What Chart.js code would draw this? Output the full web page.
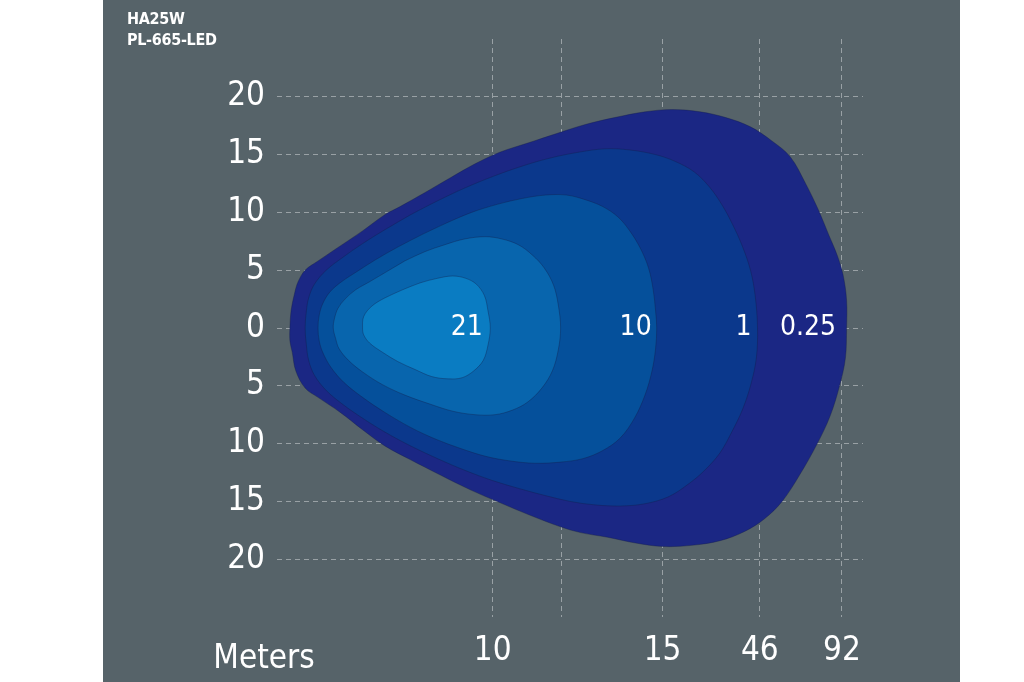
<!DOCTYPE html>
<html>
<head>
<meta charset="utf-8">
<title>HA25W PL-665-LED</title>
<script src="https://cdn.jsdelivr.net/npm/chart.js@4.4.1/dist/chart.umd.min.js"></script>
<style>
  html, body { margin: 0; padding: 0; background: #ffffff; }
  body { width: 1024px; height: 682px; position: relative; overflow: hidden; }
  #panel { position: absolute; left: 103px; top: 0; width: 857px; height: 682px; background: #566369; }
  #panel canvas { position: absolute; left: 0; top: 0; }
  .title {
    position: absolute; left: 24px; top: 8px; color: #ffffff; letter-spacing: -0.3px;
    font: bold 16px/21px 'DejaVu Sans Condensed', 'Liberation Sans Narrow', sans-serif;
  }
  .meters {
    position: absolute; left: 101px; width: 120px; top: 636px; color: #ffffff; text-align: center;
    font: 33px/42px 'DejaVu Sans Condensed', 'Liberation Sans Narrow', sans-serif;
  }
</style>
</head>
<body>
<div id="panel">
  <canvas id="isoChart" width="857" height="682"></canvas>
  <div class="title">HA25W<br>PL-665-LED</div>
  <div class="meters">Meters</div>
</div>
<script>
/* ---------- Data ---------- */
// x ticks: positions along the beam axis and the labels printed under them
const xTickPos    = [18.4, 24.3, 32.9, 41.2, 48.2];
const xTickLabels = ['10', '', '15', '46', '92'];

// y ticks: lateral spread, printed without sign
const yTickValues = [-20, -15, -10, -5, 0, 5, 10, 15, 20];
const yTickLabels = ['20', '15', '10', '5', '0', '5', '10', '15', '20'];

// isolux outlines, [x, y] pairs, each one closed
const contour025 = [
  [12.6, 11.7], [14.8, 13.0], [16.9, 14.2], [19.0, 15.2], [21.4, 16.0], [23.8, 16.8],
  [26.3, 17.6], [28.8, 18.2], [31.4, 18.7], [33.7, 18.9], [36.1, 18.7], [38.3, 18.2],
  [40.4, 17.4], [42.2, 16.2], [43.8, 14.8], [45.1, 12.5], [46.2, 10.2], [47.1, 8.0],
  [47.8, 6.3], [48.3, 4.6], [48.6, 2.4], [48.6, 0], [48.5, -2.6], [48.0, -5.0],
  [47.2, -7.6], [46.1, -10.0], [44.6, -12.7], [43.1, -15.0], [41.6, -16.5], [39.9, -17.6],
  [37.8, -18.4], [35.4, -18.8], [32.9, -18.9], [30.6, -18.6], [28.2, -18.1], [25.9, -17.7],
  [24.2, -17.2], [21.6, -16.2], [19.0, -15.1], [16.5, -14.0], [13.9, -12.7], [11.4, -11.4],
  [9.2, -10.2], [7.3, -8.8], [5.4, -7.3], [3.5, -6.0], [2.4, -5.2], [1.6, -3.7],
  [1.3, -2.1], [1.1, -1.1], [1.1, 0], [1.2, 1.5], [1.5, 3.0], [1.8, 4.0], [2.4, 5.0],
  [3.5, 5.8], [5.4, 7.1], [7.3, 8.4], [9.2, 9.8], [10.5, 10.5], [12.6, 11.7]
];
const contour1 = [
  [11.4, 9.8], [13.7, 11.0], [16.0, 12.1], [18.4, 13.1], [20.9, 14.0], [23.3, 14.7],
  [25.7, 15.2], [28.0, 15.5], [30.1, 15.4], [32.3, 15.0], [34.0, 14.4], [35.6, 13.5],
  [36.9, 12.2], [38.0, 10.6], [38.9, 8.9], [39.7, 7.1], [40.4, 5.0], [40.8, 2.8],
  [41.0, 0], [40.9, -2.6], [40.4, -5.0], [39.7, -7.1], [38.8, -9.0], [37.8, -10.8],
  [36.5, -12.3], [35.1, -13.5], [33.4, -14.6], [31.4, -15.2], [29.3, -15.4], [27.1, -15.3],
  [25.0, -15.0], [22.9, -14.5], [20.7, -13.9], [18.4, -13.2], [16.0, -12.3], [13.7, -11.3],
  [11.4, -10.2], [9.2, -9.0], [7.3, -7.8], [5.6, -6.6], [4.2, -5.4], [3.2, -4.1],
  [2.7, -2.8], [2.5, -1.4], [2.4, 0], [2.5, 1.4], [2.7, 2.6], [3.2, 3.8], [4.2, 5.0],
  [5.6, 6.1], [7.3, 7.3], [9.2, 8.5], [11.4, 9.8]
];
const contour10 = [
  [12.4, 8.1], [14.5, 9.1], [16.6, 10.0], [18.8, 10.7], [20.9, 11.2], [22.9, 11.5],
  [24.7, 11.5], [26.3, 11.1], [27.8, 10.5], [29.1, 9.6], [30.1, 8.4], [31.0, 6.9],
  [31.7, 5.2], [32.1, 3.3], [32.3, 1.5], [32.4, 0], [32.3, -1.8], [32.0, -3.7],
  [31.4, -5.8], [30.5, -7.8], [29.3, -9.5], [27.8, -10.6], [26.1, -11.3], [24.2, -11.6],
  [22.0, -11.7], [19.9, -11.5], [17.8, -11.1], [15.6, -10.4], [13.5, -9.6], [11.4, -8.6],
  [9.2, -7.3], [7.3, -6.0], [5.7, -4.7], [4.6, -3.4], [3.9, -2.1], [3.6, -1.1],
  [3.5, 0], [3.6, 1.1], [3.9, 2.1], [4.5, 3.1], [5.5, 4.0], [6.7, 4.8], [8.4, 5.9],
  [10.3, 7.0], [12.4, 8.1]
];
const contourMid = [
  [10.9, 5.8], [12.6, 6.6], [14.3, 7.2], [16.0, 7.7], [17.8, 7.9], [19.2, 7.7],
  [20.6, 7.2], [21.8, 6.3], [22.8, 5.2], [23.6, 3.7], [24.0, 2.0], [24.2, 0],
  [24.0, -1.9], [23.5, -3.7], [22.6, -5.2], [21.4, -6.4], [20.1, -7.1], [18.6, -7.5],
  [16.9, -7.5], [15.0, -7.2], [13.1, -6.6], [10.9, -5.8], [9.0, -4.9], [7.3, -3.8],
  [6.1, -2.8], [5.3, -1.8], [5.0, -0.9], [4.8, 0], [4.9, 0.8], [5.2, 1.7], [5.8, 2.5],
  [6.7, 3.3], [7.9, 4.0], [9.4, 4.9], [10.9, 5.8]
];
const contour21 = [
  [10.7, 3.3], [12.2, 3.9], [13.7, 4.3], [15.0, 4.5], [16.1, 4.3], [17.0, 3.8],
  [17.7, 2.8], [18.0, 1.5], [18.2, 0], [18.0, -1.5], [17.6, -2.8], [16.8, -3.7],
  [15.8, -4.3], [14.6, -4.4], [13.2, -4.2], [11.8, -3.6], [10.3, -2.9], [9.0, -2.1],
  [7.9, -1.3], [7.4, -0.6], [7.3, 0], [7.4, 1.0], [8.1, 1.9], [9.2, 2.6], [10.7, 3.3]
];

// lux values printed inside the zones
const isoLabels = ['21', '10', '1', '0.25'];
const isoLabelX = [16.2, 30.6, 39.8, 45.3];

/* ---------- Styling ---------- */
const FONT = "'DejaVu Sans Condensed', 'Liberation Sans Narrow', sans-serif";
const gridColor = 'rgba(255, 255, 255, 0.4)';

// innermost first so it is drawn on top
const zones = [
  { pts: contour21,  color: '#0a7cc2' },
  { pts: contourMid, color: '#0865ad' },
  { pts: contour10,  color: '#05509b' },
  { pts: contour1,   color: '#0b388c' },
  { pts: contour025, color: '#1b2784' }
];

Chart.defaults.font.family = FONT;
Chart.defaults.color = '#ffffff';

/* lux numbers on top of everything */
const labelPlugin = {
  id: 'isoLabels',
  afterDraw(chart) {
    const { ctx, scales: { x, y } } = chart;
    ctx.save();
    ctx.fillStyle = '#ffffff';
    ctx.font = '28px ' + FONT;
    ctx.textAlign = 'center';
    ctx.textBaseline = 'middle';
    isoLabels.forEach((t, i) => {
      ctx.fillText(t, x.getPixelForValue(isoLabelX[i]), y.getPixelForValue(0));
    });
    ctx.restore();
  }
};

new Chart(document.getElementById('isoChart'), {
  type: 'scatter',
  data: {
    datasets: zones.map(z => ({
      data: z.pts.map(p => ({ x: p[0], y: p[1] })),
      showLine: true,
      fill: 'shape',
      backgroundColor: z.color,
      borderColor: 'rgba(20, 28, 70, 0.45)',
      borderWidth: 0.8,
      pointRadius: 0,
      tension: 0.35
    }))
  },
  options: {
    responsive: false,
    animation: false,
    events: [],
    layout: { padding: { top: 39, right: 97, left: 0, bottom: 0 } },
    plugins: {
      legend: { display: false },
      tooltip: { enabled: false }
    },
    scales: {
      x: {
        type: 'linear',
        min: 0,
        max: 50,
        z: 1,
        afterFit: axis => { axis.height = 65; },
        afterBuildTicks: axis => { axis.ticks = xTickPos.map(v => ({ value: v })); },
        grid: { color: gridColor, lineWidth: 1, drawTicks: false },
        border: { display: false, dash: [5, 4] },
        ticks: {
          padding: 15,
          maxRotation: 0,
          autoSkip: false,
          font: { size: 33 },
          color: '#ffffff',
          callback: (v, i) => xTickLabels[i]
        }
      },
      y: {
        type: 'linear',
        min: -25,
        max: 25,
        z: 1,
        afterFit: axis => { axis.width = 174; },
        afterBuildTicks: axis => { axis.ticks = yTickValues.map(v => ({ value: v })); },
        grid: { color: gridColor, lineWidth: 1, drawTicks: false },
        border: { display: false, dash: [5, 4] },
        ticks: {
          padding: 12,
          autoSkip: false,
          font: { size: 33 },
          color: '#ffffff',
          callback: (v, i) => yTickLabels[i]
        }
      }
    }
  },
  plugins: [labelPlugin]
});
</script>
</body>
</html>
